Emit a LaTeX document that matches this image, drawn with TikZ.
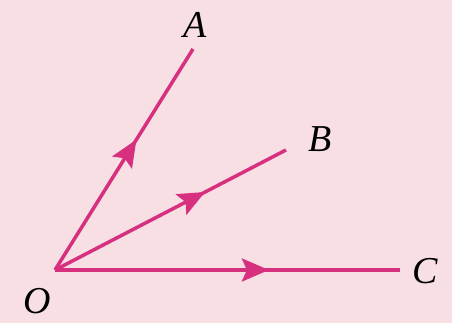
\documentclass[tikz,border=0pt]{standalone}
\usepackage{fontspec}
\setmainfont{Liberation Serif}
\usetikzlibrary{decorations.markings,arrows.meta}
\definecolor{bg}{HTML}{F7DFE4}
\definecolor{ray}{HTML}{D6307F}
\begin{document}
\begin{tikzpicture}[x=1pt,y=1pt,
  raystyle/.style={draw=ray,line width=3.5pt,
    postaction={decorate},
    decoration={markings,mark=at position #1 with {\arrow{Stealth[length=27pt,width=23pt,inset=5pt]}}}},
  lbl/.style={font=\fontsize{38}{38}\selectfont\itshape,text=black,inner sep=0pt}]
\fill[bg] (0,0) rectangle (452,323);
\useasboundingbox (0,0) rectangle (452,323);
\coordinate (O) at (55,53);
\coordinate (A) at (193,274);
\coordinate (B) at (286,173);
\coordinate (C) at (400,53);
\draw[raystyle=0.59,ray] (O) -- (A);
\draw[raystyle=0.65,ray] (O) -- (B);
\draw[raystyle=0.62,ray] (O) -- (C);
\node[lbl] (lA) at (195,298) {A};
\node[lbl] (lB) at (320,184) {B};
\node[lbl] (lC) at (425,52) {C};
\node[lbl] (lO) at (37,22) {O};
\end{tikzpicture}
\end{document}
